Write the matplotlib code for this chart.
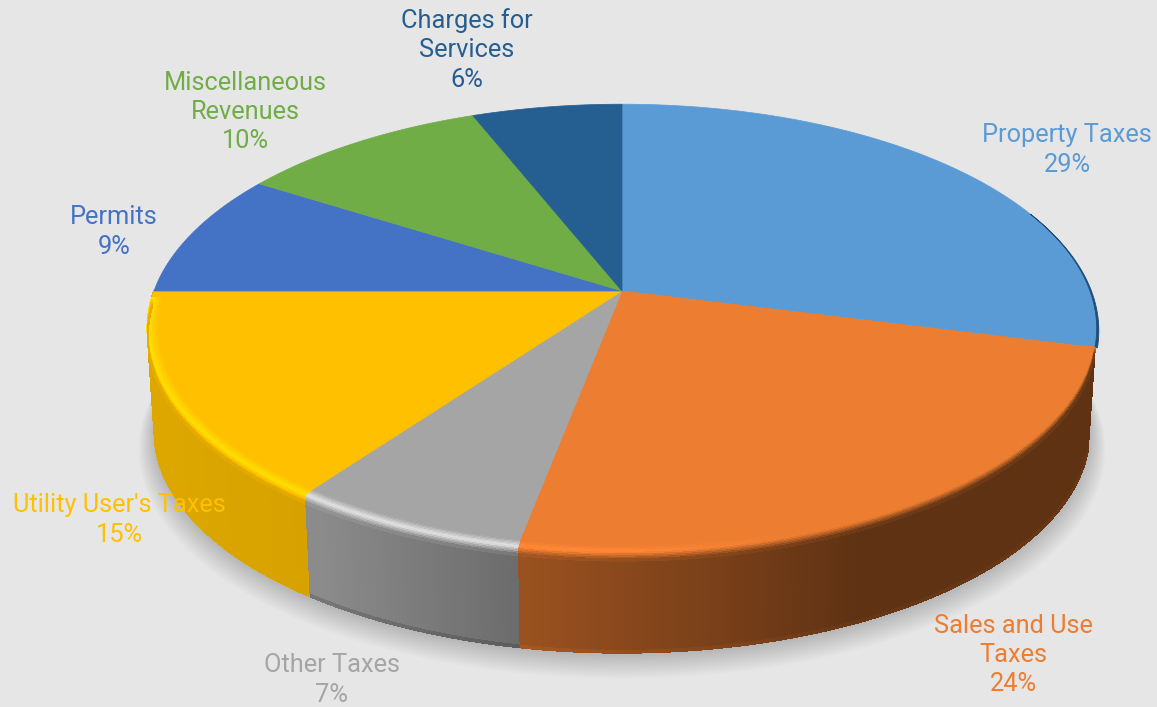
import numpy as np
import matplotlib
matplotlib.use('Agg')
import matplotlib.pyplot as plt
from matplotlib.collections import PolyCollection

categories = ['Property Taxes', 'Sales and Use\nTaxes', 'Other Taxes', "Utility User's Taxes",
              'Permits', 'Miscellaneous\nRevenues', 'Charges for\nServices']
shares = [29, 24, 7, 15, 9, 10, 6]
colors = ['#5B9BD5', '#ED7D31', '#A5A5A5', '#FFC000', '#4472C4', '#70AD47', '#255E91']

# where each label sits, in pixels
label_spots = [(1067, 150), (1013, 655), (332, 680), (119, 520), (114, 232), (245, 112), (467, 50)]
# how bright the rim highlight gets on each slice
rim_glow = [0, 0.10, 0.38, 0.17, 0, 0, 0]
wall_foot = [1, 1.08, 0.85, 1, 1, 1, 1]

BACKGROUND = '#E6E6E6'
CX, CY = 622, 291
TILT = 0.167
RX, RY = 468, 218
DROP = 104
SHRINK = 0.015


def project(theta, r=1.0, depth=0.0):
    # theta runs clockwise from 12 o'clock, depth goes from the top face to the foot of the wall
    u = r * np.sin(theta)
    v = r * np.cos(theta)
    w = 1 + TILT * v
    s = 1 - SHRINK * depth
    return CX + s * RX * u / w, CY - s * RY * v / w + DROP * depth


def to_rgb(c):
    return np.array(matplotlib.colors.to_rgb(c))


def wall_shade(x):
    return np.interp(x, [150, 320, 520, 720, 860, 1100], [0.87, 0.84, 0.65, 0.51, 0.40, 0.40])


def strip(theta, r0, d0, r1, d1, color_fn):
    # one band of small quads following the rim
    quads = []
    cols = []
    for a, b in zip(theta[:-1], theta[1:]):
        xa0, ya0 = project(a, r0, d0)
        xb0, yb0 = project(b, r0, d0)
        xa1, ya1 = project(a, r1, d1)
        xb1, yb1 = project(b, r1, d1)
        quads.append([(xa0, ya0), (xb0, yb0), (xb1, yb1), (xa1, ya1)])
        cols.append(np.clip(color_fn((xa0 + xb0) / 2), 0, 1))
    return PolyCollection(quads, facecolors=cols, edgecolors=cols, linewidths=0.6, antialiaseds=False)


fig = plt.figure(figsize=(11.57, 7.07), dpi=100, facecolor=BACKGROUND)
ax = fig.add_axes([0, 0, 1, 1])
ax.set_xlim(0, 1157)
ax.set_ylim(707, 0)
ax.axis('off')

# soft shadow under the disc
ring = np.linspace(0, 2 * np.pi, 361)
for i in range(16):
    sx, sy = project(ring, 1 + i * 0.0022, 1.0)
    ax.fill(sx, sy + 2 + i * 0.9, color='black', alpha=0.010, lw=0, zorder=1)

edges = np.radians(np.cumsum([0] + shares) * 360 / sum(shares))

for i, share in enumerate(shares):
    start, stop = edges[i], edges[i + 1]
    n = max(int(share * 8), 8)
    theta = np.linspace(start, stop, n + 1)
    base = to_rgb(colors[i])
    near_side = np.pi / 2 <= start < 1.5 * np.pi

    # wall, only the near half can be seen
    if near_side:
        wall = lambda x, b=base: b * wall_shade(x)
        foot = lambda x, b=base, f=wall_foot[i]: b * wall_shade(x) * f
        ax.add_collection(strip(theta, 1, 0, 1, 0.98, wall)).set_zorder(2)
        ax.add_collection(strip(theta, 1, 0.98, 1, 1, foot)).set_zorder(2)

    # top face
    fx, fy = project(theta)
    ax.fill(np.r_[CX, fx], np.r_[CY, fy], color=colors[i], lw=0.5, zorder=3)

    # bevel between the face and the wall, stops just short of the far end of the wall
    if near_side:
        arc = theta[theta < np.radians(268.5)]
        glow = lambda x, b=base, g=rim_glow[i]: b * (1 + g * np.interp(x, [620, 800], [1, 0]))
        steps = np.linspace(0, 1, 11)
        for t0, t1 in zip(steps[:-1], steps[1:]):
            def at(t):
                if t <= 0.5:
                    return 0.98 + 0.02 * t / 0.5, 0.0
                return 1.0, 0.08 * (t - 0.5) / 0.5

            def band(x, t=(t0 + t1) / 2, b=base):
                if t <= 0.5:
                    return b + (glow(x) - b) * t / 0.5
                return glow(x) + (b * wall_shade(x) - glow(x)) * (t - 0.5) / 0.5

            r0, d0 = at(t0)
            r1, d1 = at(t1)
            ax.add_collection(strip(arc, r0, d0, r1, d1, band)).set_zorder(4)

# thin dark edge where the blue slice turns away on the right
rim = np.linspace(np.radians(68), edges[1], 80)
ox, oy = project(rim, 1 + 0.005 * (rim - rim[0]) / (rim[-1] - rim[0]))
ix, iy = project(rim)
ax.fill(np.r_[ox, ix[::-1]], np.r_[oy, iy[::-1]], color='#1F4E79', lw=0.6, zorder=3)

for name, share, color, (lx, ly) in zip(categories, shares, colors, label_spots):
    ax.text(lx, ly, f'{name}\n{share}%', color=color, ha='center', va='center', family='Roboto',
            fontsize=18.3, linespacing=1.27, zorder=6)

fig.savefig('out.png', dpi=100, facecolor=BACKGROUND)
